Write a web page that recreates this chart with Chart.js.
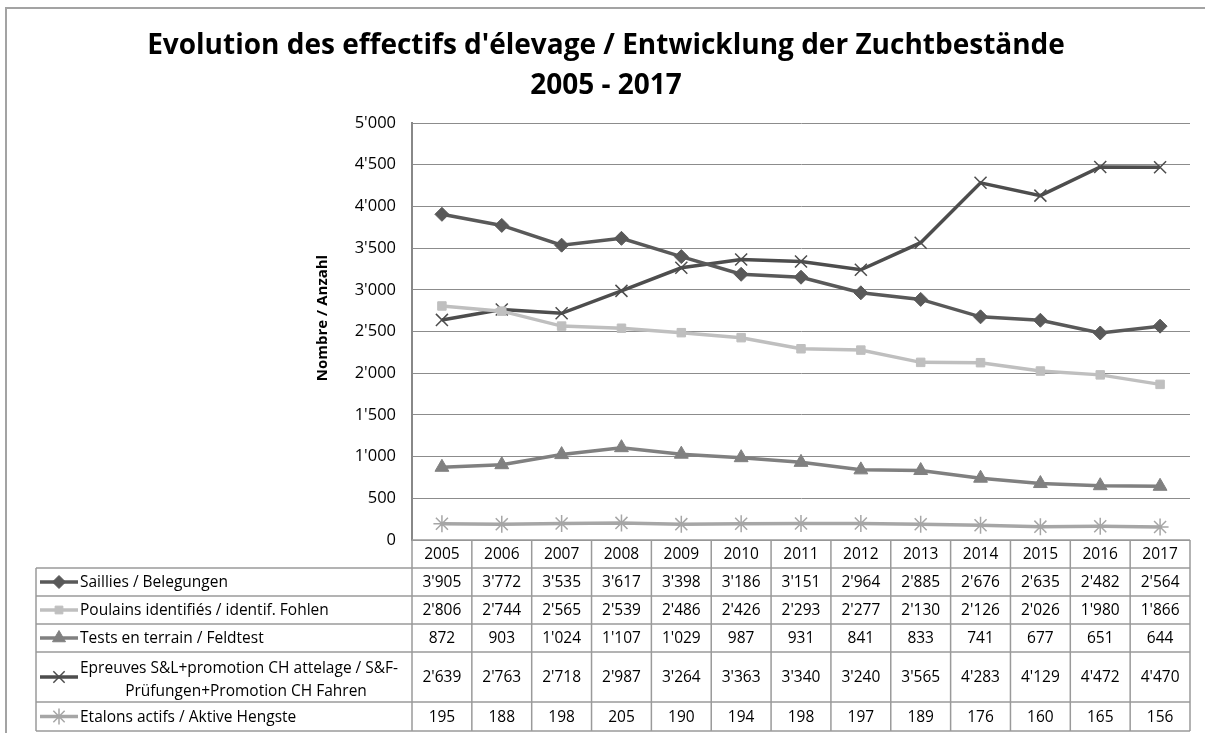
<!DOCTYPE html>
<html>
<head>
<meta charset="utf-8">
<script src="https://cdn.jsdelivr.net/npm/chart.js@4"></script>
<style>
  html, body { margin: 0; padding: 0; background: #ffffff; }
  #wrap { width: 1205px; height: 733px; }
</style>
</head>
<body>
<div id="wrap"><canvas id="c" width="1205" height="733"></canvas></div>
<script>
// ---- data ----
const years = ['2005','2006','2007','2008','2009','2010','2011','2012','2013','2014','2015','2016','2017'];
const saillies = [3905, 3772, 3535, 3617, 3398, 3186, 3151, 2964, 2885, 2676, 2635, 2482, 2564];
const poulains = [2806, 2744, 2565, 2539, 2486, 2426, 2293, 2277, 2130, 2126, 2026, 1980, 1866];
const tests    = [872, 903, 1024, 1107, 1029, 987, 931, 841, 833, 741, 677, 651, 644];
const epreuves = [2639, 2763, 2718, 2987, 3264, 3363, 3340, 3240, 3565, 4283, 4129, 4472, 4470];
const etalons  = [195, 188, 198, 205, 190, 194, 198, 197, 189, 176, 160, 165, 156];
const seriesLabels = [
  'Saillies / Belegungen',
  'Poulains identifiés / identif. Fohlen',
  'Tests en terrain / Feldtest',
  ['Epreuves S&L+promotion CH attelage / S&F-', 'Prüfungen+Promotion CH Fahren'],
  'Etalons actifs / Aktive Hengste'
];
const titleLines = ["Evolution des effectifs d'élevage / Entwicklung der Zuchtbestände", '2005 - 2017'];
const yAxisTitle = 'Nombre / Anzahl';
const yMin = 0, yMax = 5000, yStep = 500;

function fmt(n) { return String(n).replace(/\B(?=(\d{3})+(?!\d))/g, "'"); }

const FONT = '"Open Sans", Lato, sans-serif';

const seriesStyles = [
  { color: '#595959', pointStyle: 'rectRot', radius: 7, borderWidth: 1 },
  { color: '#bfbfbf', pointStyle: 'rect', radius: 6, borderWidth: 1 },
  { color: '#808080', pointStyle: 'triangle', radius: 8, borderWidth: 1 },
  { color: '#4d4d4d', pointStyle: 'crossRot', radius: 8.5, borderWidth: 1.5 },
  { color: '#a6a6a6', pointStyle: 'star', radius: 8.5, borderWidth: 1.5 }
];
const seriesData = [saillies, poulains, tests, epreuves, etalons];

const datasets = seriesData.map((d, i) => ({
  label: Array.isArray(seriesLabels[i]) ? seriesLabels[i].join(' ') : seriesLabels[i],
  data: d,
  borderColor: seriesStyles[i].color,
  backgroundColor: seriesStyles[i].color,
  borderWidth: 3.5,
  pointStyle: seriesStyles[i].pointStyle,
  pointRadius: seriesStyles[i].radius,
  pointBorderWidth: seriesStyles[i].borderWidth,
  pointBorderColor: seriesStyles[i].color,
  pointBackgroundColor: seriesStyles[i].color,
  tension: 0
}));

// ---- plugins: title, outer frame, y title, data table ----
const framePlugin = {
  id: 'frame',
  beforeDraw(chart) {
    const ctx = chart.ctx;
    ctx.save();
    ctx.strokeStyle = '#a3a3a3';
    ctx.lineWidth = 2;
    ctx.beginPath();
    ctx.moveTo(6, 740);
    ctx.lineTo(6, 8);
    ctx.lineTo(1210, 8);
    ctx.stroke();
    ctx.fillStyle = '#000000';
    ctx.font = 'bold 28px ' + FONT;
    ctx.textAlign = 'center';
    ctx.textBaseline = 'middle';
    ctx.fillText(titleLines[0], 606, 46);
    ctx.fillText(titleLines[1], 606, 86);
    // y axis title
    ctx.save();
    ctx.translate(323, 318);
    ctx.rotate(-Math.PI / 2);
    ctx.font = 'bold 15px ' + FONT;
    ctx.fillText(yAxisTitle, 0, 0);
    ctx.restore();
    ctx.restore();
  }
};

const tablePlugin = {
  id: 'dataTable',
  afterDraw(chart) {
    const ctx = chart.ctx;
    const xs = chart.scales.x;
    const area = chart.chartArea;
    const n = years.length;
    const colW = (area.right - area.left) / n;
    const rowsY = [area.bottom, 568, 596, 624, 652, 702, 731];
    const tableLeft = 36;
    ctx.save();
    ctx.strokeStyle = '#9a9a9a';
    ctx.lineWidth = 1.5;
    ctx.beginPath();
    ctx.moveTo(area.left, rowsY[0]); ctx.lineTo(area.right, rowsY[0]);
    for (let r = 1; r < rowsY.length; r++) {
      ctx.moveTo(tableLeft, rowsY[r]); ctx.lineTo(area.right, rowsY[r]);
    }
    for (let c = 0; c <= n; c++) {
      const x = area.left + c * colW;
      ctx.moveTo(x, rowsY[0]); ctx.lineTo(x, rowsY[rowsY.length - 1]);
    }
    ctx.moveTo(tableLeft, rowsY[1]); ctx.lineTo(tableLeft, rowsY[rowsY.length - 1]);
    ctx.stroke();

    ctx.fillStyle = '#000000';
    ctx.font = '15.5px ' + FONT;
    ctx.textAlign = 'center';
    ctx.textBaseline = 'middle';
    years.forEach((y, i) => {
      ctx.fillText(y, xs.getPixelForValue(i), (rowsY[0] + rowsY[1]) / 2 + 1);
    });
    seriesData.forEach((d, s) => {
      const yc = (rowsY[s + 1] + rowsY[s + 2]) / 2 + 1;
      d.forEach((v, i) => {
        ctx.fillText(fmt(v), xs.getPixelForValue(i), yc);
      });
      const st = seriesStyles[s];
      ctx.save();
      ctx.strokeStyle = st.color;
      ctx.fillStyle = st.color;
      ctx.lineWidth = 3.5;
      ctx.beginPath();
      ctx.moveTo(40, yc - 1); ctx.lineTo(78, yc - 1);
      ctx.stroke();
      ctx.lineWidth = st.borderWidth;
      Chart.helpers.drawPoint(ctx, { pointStyle: st.pointStyle, radius: st.radius - 0.5, rotation: 0, borderWidth: st.borderWidth }, 59, yc - 1);
      ctx.restore();
      ctx.save();
      ctx.fillStyle = '#000000';
      ctx.font = '15.5px ' + FONT;
      ctx.textBaseline = 'middle';
      const lab = seriesLabels[s];
      if (Array.isArray(lab)) {
        ctx.textAlign = 'left';
        ctx.fillText(lab[0], 80, 669);
        ctx.textAlign = 'center';
        ctx.fillText(lab[1], 246, 692);
      } else {
        ctx.textAlign = 'left';
        ctx.fillText(lab, 80, yc);
      }
      ctx.restore();
    });
    ctx.restore();
  }
};

new Chart(document.getElementById('c'), {
  type: 'line',
  data: { labels: years, datasets },
  options: {
    responsive: false,
    animation: false,
    devicePixelRatio: 1,
    layout: { padding: { left: 22, right: 15, top: 123, bottom: 193 } },
    plugins: {
      legend: { display: false },
      title: { display: false },
      tooltip: { enabled: false }
    },
    scales: {
      x: {
        display: false,
        offset: true
      },
      y: {
        min: yMin, max: yMax,
        afterFit(scale) { scale.width = 412 - 22; },
        ticks: {
          stepSize: yStep,
          padding: 16,
          color: '#000000',
          font: { family: FONT, size: 16.5 },
          callback: (v) => fmt(v)
        },
        grid: { color: '#8c8c8c', lineWidth: 1, drawTicks: false },
        border: { display: true, color: '#888888', width: 2 },
        title: { display: false }
      }
    }
  },
  plugins: [framePlugin, tablePlugin]
});
</script>
</body>
</html>
